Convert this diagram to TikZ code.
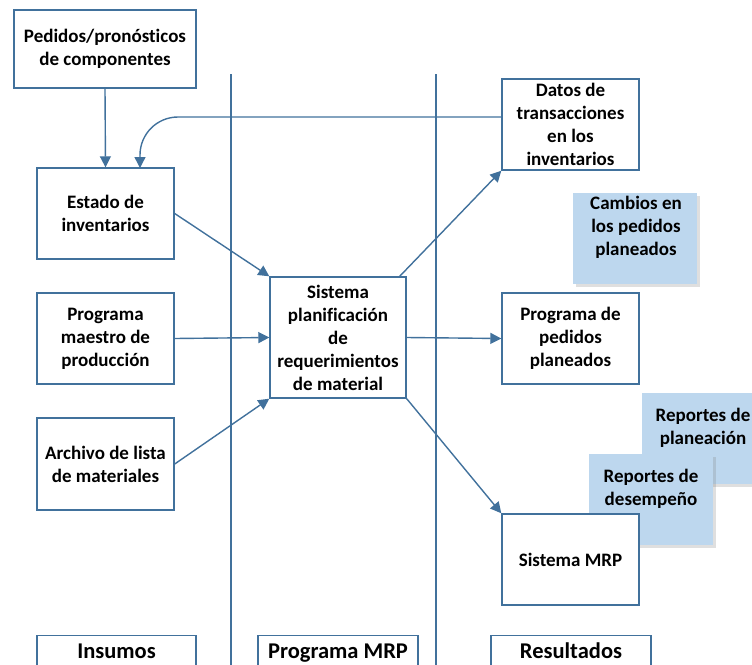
\documentclass[tikz,border=0pt]{standalone}
\usepackage{fontspec}
\setmainfont[Ligatures={NoCommon}]{Carlito}
\usetikzlibrary{arrows.meta, shadows}

\definecolor{azul}{RGB}{65,113,156}
\definecolor{celeste}{RGB}{189,215,238}

\begin{document}
\begin{tikzpicture}[x=1pt, y=-1pt,
  texto/.style = {font=\bfseries\fontsize{19}{23}\selectfont, align=center},
  titulo/.style = {font=\bfseries\fontsize{22.5}{26}\selectfont, anchor=base},
  caja/.style = {texto, draw=azul, line width=1.4pt, fill=white, inner sep=0pt},
  nota/.style = {fill=celeste, inner sep=0pt,
    drop shadow={shadow xshift=2.5pt, shadow yshift=-2.5pt, opacity=0.25, fill=gray}},
  flecha/.style = {draw=azul, line width=1.4pt, -{Triangle[length=11pt,width=11pt]}},
  linea/.style = {draw=azul, line width=1.4pt}]

\useasboundingbox (0,0) rectangle (752,664);
\clip (0,0) rectangle (752,664);

% column separators
\coordinate (S1) at (231,74);
\coordinate (S2) at (436,74);
\draw[linea] (S1) -- (231,670);
\draw[linea] (S2) -- (436,670);

% inputs
\node[caja, minimum width=182pt, minimum height=78pt] (pedidos) at (105,49) {Pedidos/pronósticos\\de componentes};
\node[caja, minimum width=137pt, minimum height=91pt] (estado) at (105.5,213.5) {Estado de\\inventarios};
\node[caja, minimum width=137pt, minimum height=91pt] (maestro) at (105.5,338.5) {Programa\\maestro de\\producción};
\node[caja, minimum width=137pt, minimum height=92pt] (archivo) at (105.5,464) {Archivo de lista\\de materiales};

% MRP system
\node[caja, minimum width=136pt, minimum height=121pt] (sistema) at (338,337.5) {Sistema\\planificación\\de\\requerimientos\\de material};

% outputs
\node[caja, minimum width=137pt, minimum height=91pt] (datos) at (570.5,124.5) {Datos de\\transacciones\\en los\\inventarios};

\node[nota, minimum width=124pt, minimum height=91pt] (cambios) at (635,238.5) {};
\node[texto] (cambiostxt) at (636,227) {Cambios en\\los pedidos\\planeados};

\node[caja, minimum width=137pt, minimum height=91pt] (programa) at (570.5,338.5) {Programa de\\pedidos\\planeados};

\node[nota, minimum width=124pt, minimum height=91pt] (planeacion) at (704,438.5) {};
\node[texto] (planeaciontxt) at (703,428) {Reportes de\\planeación};
\node[nota, minimum width=124pt, minimum height=91pt] (desempeno) at (651,499.5) {};
\node[texto] (desempenotxt) at (651,488.5) {Reportes de\\desempeño};

\node[caja, minimum width=137pt, minimum height=91pt] (mrp) at (570.5,559.5) {Sistema MRP};

% column titles
\node[caja, minimum width=159pt, minimum height=40pt, anchor=north] (insumos) at (116.5,635) {};
\node[titulo] at (116.5,658) {Insumos};
\node[caja, minimum width=160pt, minimum height=40pt, anchor=north] (progmrp) at (338,635) {};
\node[titulo] at (338,658) {Programa MRP};
\node[caja, minimum width=160pt, minimum height=40pt, anchor=north] (resultados) at (571,635) {};
\node[titulo] at (571,658) {Resultados};

% flows
\draw[flecha] (pedidos.south) -- (estado.north);
\coordinate (retorno) at (502,117);
\coordinate (codo) at (140,117);
\coordinate (llegada) at (140,168);
\draw[flecha, rounded corners=38pt] (retorno) -- (codo) -- (llegada);

\draw[flecha] (estado.east) -- (sistema.north west);
\draw[flecha] (maestro.east) -- (sistema.west);
\draw[flecha] (archivo.east) -- (sistema.south west);

\draw[flecha] ([xshift=-7pt]sistema.north east) -- (datos.south west);
\draw[flecha] (sistema.east) -- (programa.west);
\draw[flecha] (sistema.south east) -- (mrp.north west);

\end{tikzpicture}
\end{document}
